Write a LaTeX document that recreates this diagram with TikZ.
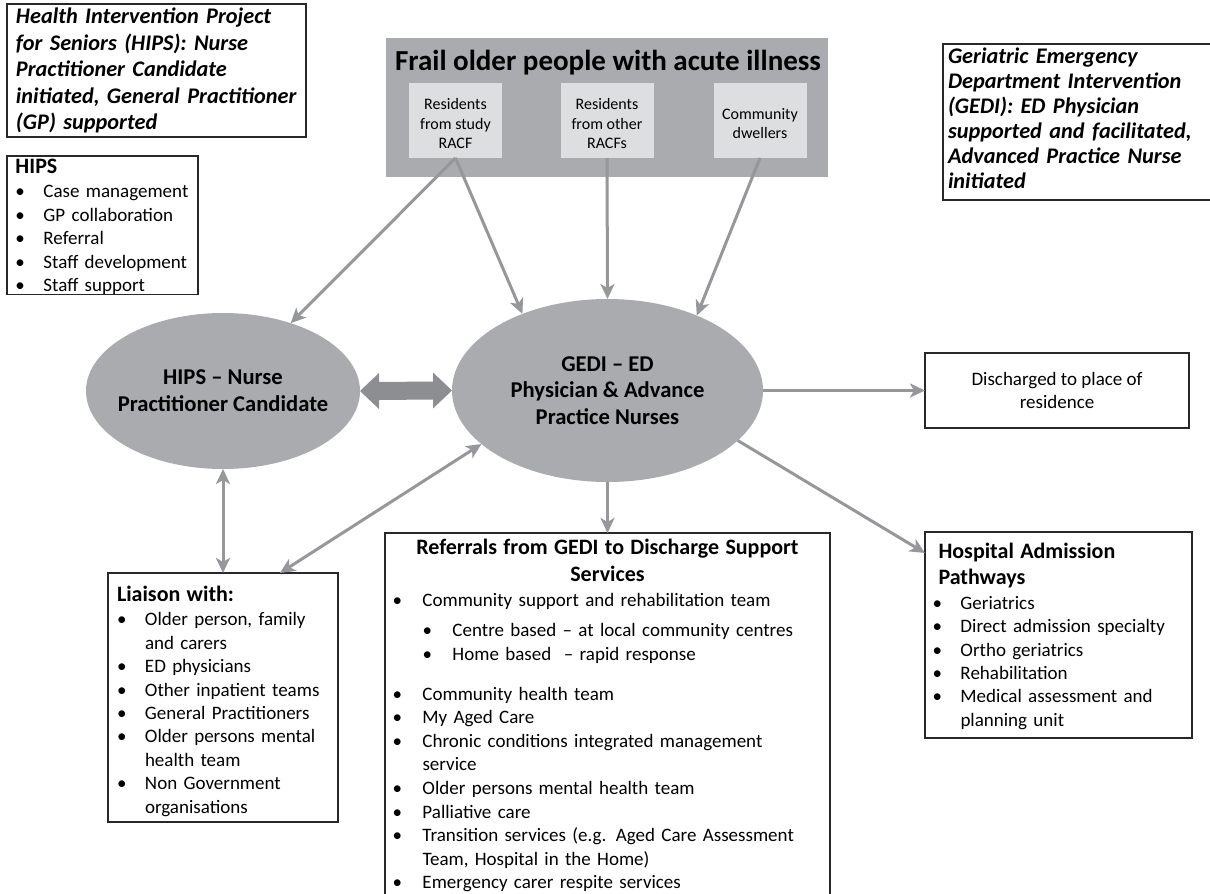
\documentclass[tikz,border=0pt]{standalone}
\usepackage{fontspec}
\setmainfont{Carlito}
\usetikzlibrary{arrows.meta,shapes.geometric,calc}
\definecolor{ellgray}{RGB}{170,171,174}
\definecolor{subgray}{RGB}{221,222,224}
\definecolor{arrgray}{RGB}{150,151,154}
\definecolor{blockgray}{RGB}{141,142,145}
\definecolor{rulegray}{RGB}{40,40,40}
\newlength\bulw
\setlength\bulw{28pt}
\newcommand{\bul}{\makebox[\bulw][l]{\textbullet}}
\newcommand{\cont}{\hspace*{\bulw}}
\newcommand{\headfont}{\fontsize{22}{23.4}\selectfont\bfseries}

\begin{document}
\begin{tikzpicture}[x=1pt, y=-1pt,
    every node/.style={inner sep=0pt, outer sep=0pt},
    >={Stealth[length=15pt, width=14pt, inset=4pt]},
    box/.style={draw=rulegray, line width=1.2pt},
    note/.style={box, anchor=north west, align=left, font=\fontsize{22.3}{26.5}\selectfont\bfseries\itshape},
    listbox/.style={box, anchor=north west, align=left, font=\fontsize{19}{23.4}\selectfont},
    ell/.style={ellipse, fill=ellgray},
    elltext/.style={align=center, font=\fontsize{22.6}{26.7}\selectfont\bfseries},
    src/.style={fill=subgray, minimum width=93pt, minimum height=75pt, align=center, font=\fontsize{16}{19.5}\selectfont},
    link/.style={draw=arrgray, line width=3pt, ->},
    dlink/.style={link, <->}
  ]
  \useasboundingbox (0,0) rectangle (1210,894);

  \node[note, text width=281pt, inner xsep=9pt, minimum height=133pt] (hipsnote) at (7,4) {Health~Intervention~Project\\for~Seniors~(HIPS):~Nurse\\Practitioner~Candidate\\initiated,~General~Practitioner\\(GP)~supported};
  \node[note, draw=none, text width=257pt, inner xsep=5pt, minimum height=156pt, font=\fontsize{22.3}{25}\selectfont\bfseries\itshape] (gedinote) at (943,44) {Geriatric~Emergency\\Department~Intervention\\(GEDI):~ED~Physician\\supported~and~facilitated,\\Advanced~Practice~Nurse\\initiated\rule[-8pt]{0pt}{8pt}};
  \draw[box] (gedinote.north east) -- (gedinote.north west) -- (gedinote.south west) -- (gedinote.south east);
  \node[listbox, text width=174pt, inner xsep=8.5pt, minimum height=137pt] (hipslist) at (7,156) {{\headfont\rule{0pt}{17.5pt}HIPS}\\[1pt]\bul Case management\\\bul GP collaboration\\\bul Referral\\\bul Staff development\\\bul Staff support};

  \node[fill=ellgray, minimum width=442pt, minimum height=139pt] (frail) at (607,107.5) {};
  \node[font=\fontsize{29}{32}\selectfont\bfseries] (frailtitle) at (608,63) {Frail older people with acute illness};
  \node[src] (study) at (455.5,120.5) {\rule{0pt}{17.5pt}Residents\\from study\\RACF};
  \node[src] (other) at (607,120.5) {\rule{0pt}{17.5pt}Residents\\from other\\RACFs};
  \node[src] (comm) at (760,120.5) {\rule{0pt}{17.5pt}Community\\dwellers};

  \node[ell, minimum width=274pt, minimum height=156pt, label={[elltext]center:{HIPS – Nurse\\Practitioner Candidate}}] (hips) at (223,391) {};
  \node[ell, minimum width=311pt, minimum height=183pt, label={[elltext]center:{GEDI – ED\\Physician \& Advance\\Practice Nurses}}] (gedi) at (607.5,390.5) {};

  \node[box, minimum width=264pt, minimum height=75pt, align=center, font=\fontsize{19}{23.4}\selectfont] (dis) at (1057,390.5) {Discharged to place of\\residence};

  \node[listbox, text width=212pt, inner xsep=9pt, minimum height=249pt] (lia) at (108,573) {{\headfont\rule{0pt}{22.5pt}Liaison with:}\\[1.5pt]\bul Older person, family\\\cont and carers\\\bul ED physicians\\\bul Other inpatient teams\\\bul General Practitioners\\\bul Older persons mental\\\cont health team\\\bul Non Government\\\cont organisations};

  \node[listbox, text width=252pt, inner xsep=7.5pt, minimum height=206pt] (hosp) at (925,532) {{\headfont\rule{0pt}{18pt}\hspace*{6pt}Hospital Admission}\\[2.6pt]{\headfont\hspace*{6pt}Pathways}\\[1.6pt]\bul Geriatrics\\\bul Direct admission specialty\\\bul Ortho geriatrics\\\bul Rehabilitation\\\bul Medical assessment and\\\cont planning unit};

  \node[listbox, text width=430pt, inner xsep=7.5pt, inner ysep=6pt, font=\fontsize{19}{23.6}\selectfont] (ref) at (385,533) {\setlength\bulw{30pt}\makebox[\hsize]{\headfont Referrals from GEDI to Discharge Support}\\[3.4pt]\makebox[\hsize]{\headfont Services}\\[1.4pt]\bul Community support and rehabilitation team\\[6.4pt]\cont\bul Centre based – at local community centres\\\cont\bul Home based \ – rapid response\\[16.4pt]\bul Community health team\\\bul My Aged Care\\\bul Chronic conditions integrated management\\\cont service\\\bul Older persons mental health team\\\bul Palliative care\\\bul Transition services (e.g. Aged Care Assessment\\\cont Team, Hospital in the Home)\\\bul Emergency carer respite services\\[10pt]\mbox{}};

  \fill[blockgray] (hips.east) -- ([shift={(19,-18)}]hips.east) -- ([shift={(19,-9)}]hips.east) -- ([shift={(-19,-9)}]gedi.west) -- ([shift={(-19,-18)}]gedi.west) -- (gedi.west) -- ([shift={(-19,18)}]gedi.west) -- ([shift={(-19,9)}]gedi.west) -- ([shift={(19,9)}]hips.east) -- ([shift={(19,18)}]hips.east) -- cycle;

  \draw[link] (study.south) -- (hips);
  \draw[link] (study.south) -- (gedi.138);
  \draw[link] (other.south) -- (gedi.north);
  \draw[link] (comm.south) -- (gedi.40);
  \draw[link] (gedi.east) -- (dis.west);
  \draw[link] (gedi.-21) -- ([shift={(0,21)}]hosp.north west);
  \draw[link] (gedi.south) -- (ref.north);
  \draw[dlink] (hips.south) -- (lia.north);
  \draw[dlink] ([shift={(172,0)}]lia.north west) -- (gedi.203);
\end{tikzpicture}
\end{document}
